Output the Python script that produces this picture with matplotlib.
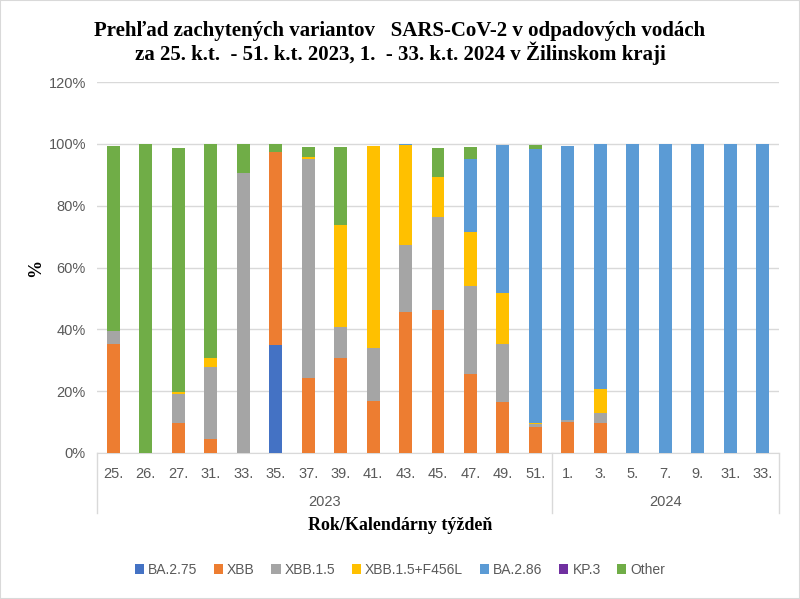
import matplotlib
matplotlib.use("Agg")
import matplotlib.pyplot as plt
import matplotlib.transforms as mtransforms
import numpy as np

weeks = ["25.", "26.", "27.", "31.", "33.", "35.", "37.", "39.", "41.", "43.",
         "45.", "47.", "49.", "51.", "1.", "3.", "5.", "7.", "9.", "31.", "33."]
years = ["2023", "2024"]
n_2023 = 14

# shares in %, one list per variant
ba275 = [0, 0, 0, 0, 0, 35.0, 0, 0, 0, 0, 0, 0, 0, 0, 0, 0, 0, 0, 0, 0, 0]
xbb = [35.2, 0, 9.8, 4.6, 0, 62.4, 24.2, 30.8, 16.8, 45.5, 46.2, 25.7, 16.6, 8.4,
       10.1, 9.7, 0, 0, 0, 0, 0]
xbb15 = [4.4, 0, 9.3, 23.2, 90.6, 0, 70.9, 9.9, 17.3, 21.7, 30.0, 28.2, 18.6, 0.9,
         0.6, 3.3, 0, 0, 0, 0, 0]
f456l = [0, 0, 0.5, 2.8, 0, 0, 0.8, 33.0, 65.3, 32.4, 13.2, 17.6, 16.7, 0.3,
         0, 7.7, 0, 0, 0, 0, 0]
ba286 = [0, 0, 0, 0, 0, 0, 0, 0, 0, 0.4, 0, 23.5, 47.7, 88.8,
         88.7, 79.3, 100, 100, 100, 100, 100]
kp3 = [0] * 21
other = [59.8, 100, 78.9, 69.4, 9.4, 2.6, 3.2, 25.4, 0, 0, 9.4, 4.1, 0, 1.3,
         0, 0, 0, 0, 0, 0, 0]

series = [("BA.2.75", ba275, "#4472C4"),
          ("XBB", xbb, "#ED7D31"),
          ("XBB.1.5", xbb15, "#A5A5A5"),
          ("XBB.1.5+F456L", f456l, "#FFC000"),
          ("BA.2.86", ba286, "#5B9BD5"),
          ("KP.3", kp3, "#7030A0"),
          ("Other", other, "#70AD47")]

fig = plt.figure(figsize=(8, 5.99), dpi=100)
ax = fig.add_axes([97 / 800, 1 - 453 / 599, 682 / 800, (453 - 82) / 599])

x = np.arange(len(weeks))
bottom = np.zeros(len(weeks))
for name, vals, col in series:
    v = np.array(vals) / 100
    ax.bar(x, v, width=0.4, bottom=bottom, color=col, label=name, zorder=3)
    bottom += v

ax.set_xlim(-0.5, len(weeks) - 0.5)
ax.set_ylim(0, 1.2)
yt = np.arange(0, 1.21, 0.2)
ax.set_yticks(yt)
ax.set_yticklabels([f"{int(round(t * 100))}%" for t in yt])
ax.grid(axis="y", color="#D9D9D9", linewidth=1, zorder=0)
for s in ["top", "right", "left"]:
    ax.spines[s].set_visible(False)
ax.spines["bottom"].set_color("#D9D9D9")
ax.tick_params(axis="y", length=0, labelsize=10.5, labelcolor="#595959", pad=8)
ax.set_xticks(x)
ax.set_xticklabels(weeks)
ax.tick_params(axis="x", length=0, labelsize=10.5, labelcolor="#595959", pad=10)
for lab in ax.get_xticklabels() + ax.get_yticklabels():
    lab.set_family("Liberation Sans")

# year level of the category axis
trans = mtransforms.blended_transform_factory(ax.transData, ax.transAxes)
for xs in [-0.5, n_2023 - 0.5, len(weeks) - 0.5]:
    ax.plot([xs, xs], [0, -0.162], color="#D9D9D9", linewidth=1, transform=trans, clip_on=False)
ax.text((n_2023 - 1) / 2, -0.132, years[0], transform=trans, ha="center", va="center",
        fontsize=10.5, color="#595959", family="Liberation Sans")
ax.text((n_2023 + len(weeks) - 1) / 2, -0.132, years[1], transform=trans, ha="center",
        va="center", fontsize=10.5, color="#595959", family="Liberation Sans")

fig.text(0.5, 1 - 526 / 599, "Rok/Kalendárny týždeň", ha="center", va="center",
         fontsize=13, fontweight="bold", family="Liberation Serif")
fig.text(36 / 800, 1 - 268 / 599, "%", ha="center", va="center", rotation=90,
         fontsize=13, fontweight="bold", family="Liberation Serif")

fig.text(0.5, 1 - 43 / 599,
         "Prehľad zachytených variantov   SARS-CoV-2 v odpadových vodách\n"
         "za 25. k.t.  - 51. k.t. 2023, 1.  - 33. k.t. 2024 v Žilinskom kraji",
         ha="center", va="center", fontsize=15, fontweight="bold",
         family="Liberation Serif", linespacing=1.05)

leg = fig.legend(loc="center", bbox_to_anchor=(0.5, 1 - 570 / 599), ncol=7, frameon=False,
                 handlelength=0.65, handleheight=0.65, handletextpad=0.3, columnspacing=1.2,
                 prop={"family": "Liberation Sans", "size": 10})
for t in leg.get_texts():
    t.set_color("#595959")

fig.patches.append(plt.Rectangle((0, 0), 1, 1, transform=fig.transFigure, fill=False,
                                 edgecolor="#D9D9D9", linewidth=1.5))

plt.savefig("out.png", dpi=100)
